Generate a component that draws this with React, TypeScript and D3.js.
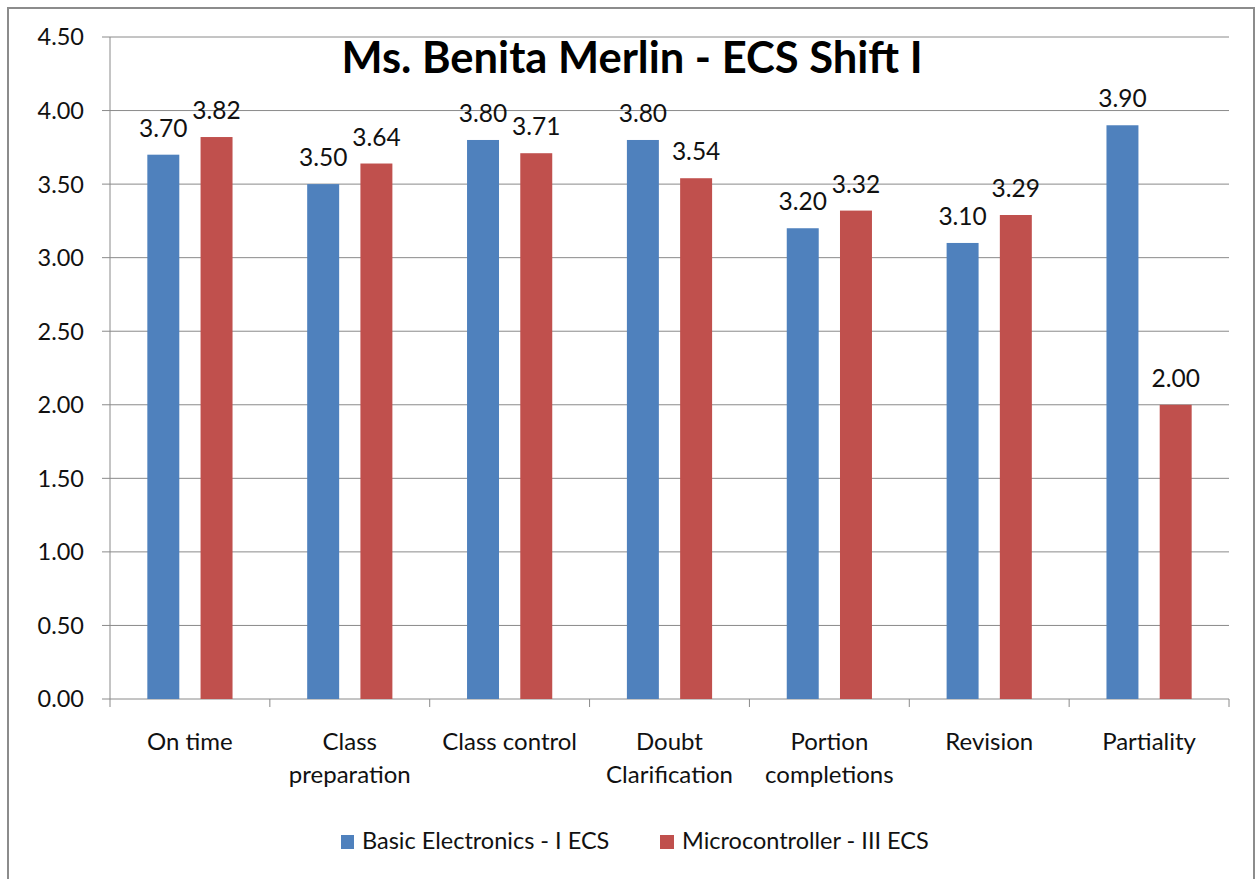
import React from "react";
import * as d3 from "d3";

const categories: string[][] = [
  ["On time"],
  ["Class", "preparation"],
  ["Class control"],
  ["Doubt", "Clarification"],
  ["Portion", "completions"],
  ["Revision"],
  ["Partiality"],
];
const seriesNames = ["Basic Electronics - I ECS", "Microcontroller - III ECS"];
const basicElectronics = [3.7, 3.5, 3.8, 3.8, 3.2, 3.1, 3.9];
const microcontroller = [3.82, 3.64, 3.71, 3.54, 3.32, 3.29, 2.0];
const yTicks = [0, 0.5, 1, 1.5, 2, 2.5, 3, 3.5, 4, 4.5];
const title = "Ms. Benita Merlin - ECS Shift I";

const colors = ["#4F81BD", "#C0504D"];
const FONT = "Lato, 'Open Sans', sans-serif";

export default function App() {
  const W = 1257;
  const H = 879;
  const left = 110;
  const right = 1229;
  const top = 37;
  const bottom = 699;

  const x = d3
    .scaleBand<number>()
    .domain(categories.map((_, i) => i))
    .range([left, right])
    .padding(0);
  const y = d3.scaleLinear().domain([0, 4.5]).range([bottom, top]);
  const bw = x.bandwidth();
  const barW = bw * 0.2;
  const gap = bw * 0.133;
  const offset = (bw - 2 * barW - gap) / 2;
  const series = [basicElectronics, microcontroller];
  const gridColor = "#8a8a8a";

  return (
    <svg
      width={W}
      height={H}
      style={{ position: "absolute", left: 0, top: 0, background: "#fff" }}
      fontFamily={FONT}
    >
      <rect x={0} y={0} width={W} height={H} fill="#fff" />
      <rect x={8} y={8} width={1246} height={H + 20} fill="#fff" stroke="#8c8c8c" strokeWidth={2} />
      {yTicks.map((t) => (
        <g key={t}>
          <line x1={left} x2={right} y1={y(t)} y2={y(t)} stroke={gridColor} strokeWidth={1} />
          <line x1={left - 8} x2={left} y1={y(t)} y2={y(t)} stroke={gridColor} strokeWidth={1} />
          <text x={84} y={y(t)} dy="0.36em" textAnchor="end" fontSize={23.5} fill="#111">
            {t.toFixed(2)}
          </text>
        </g>
      ))}
      <line x1={left} x2={left} y1={top} y2={bottom} stroke={gridColor} strokeWidth={1} />
      {d3.range(categories.length + 1).map((i) => {
        const xx = left + i * bw;
        return <line key={i} x1={xx} x2={xx} y1={bottom} y2={bottom + 8} stroke={gridColor} strokeWidth={1} />;
      })}
      {series.map((vals, s) =>
        vals.map((v, i) => {
          const bx = (x(i) as number) + offset + s * (barW + gap);
          return (
            <g key={`${s}-${i}`}>
              <rect x={bx} y={y(v)} width={barW} height={bottom - y(v)} fill={colors[s]} />
              <text x={bx + barW / 2} y={y(v) - 18} textAnchor="middle" fontSize={24.5} fill="#111">
                {v.toFixed(2)}
              </text>
            </g>
          );
        })
      )}
      {categories.map((lines, i) => (
        <text key={i} x={(x(i) as number) + bw / 2} y={750} textAnchor="middle" fontSize={24} fill="#111">
          {lines.map((l, j) => (
            <tspan key={j} x={(x(i) as number) + bw / 2} dy={j === 0 ? 0 : 33}>
              {l}
            </tspan>
          ))}
        </text>
      ))}
      <text x={632} y={73} textAnchor="middle" fontSize={43.5} fontWeight="bold" fill="#000">
        {title}
      </text>
      <rect x={341} y={835} width={13} height={14} fill={colors[0]} />
      <text x={362} y={849} fontSize={23.5} fill="#111">
        {seriesNames[0]}
      </text>
      <rect x={660} y={835} width={14} height={14} fill={colors[1]} />
      <text x={682} y={849} fontSize={23.5} fill="#111">
        {seriesNames[1]}
      </text>
    </svg>
  );
}
